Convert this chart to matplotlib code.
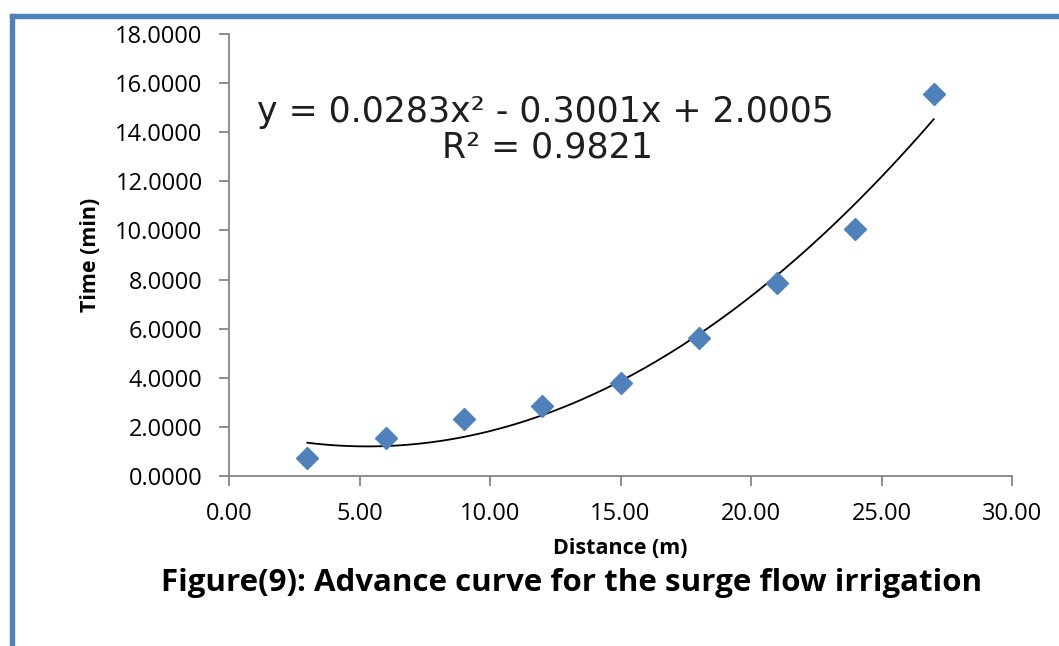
import numpy as np
import matplotlib
matplotlib.use("Agg")
import matplotlib.pyplot as plt
from matplotlib.ticker import FormatStrFormatter, MultipleLocator
from matplotlib.patches import Rectangle

# Data
distance = [3, 6, 9, 12, 15, 18, 21, 24, 27]
time_min = [0.73, 1.55, 2.32, 2.85, 3.79, 5.62, 7.86, 10.06, 15.55]
trend_coef = [0.0283, -0.3001, 2.0005]
r_squared = 0.9821
title = "Figure(9): Advance curve for the surge flow irrigation"
xlabel = "Distance (m)"
ylabel = "Time (min)"

blue = "#4F81BD"
gray = "#868686"

fig = plt.figure(figsize=(10.59, 6.46), dpi=100)
ax = fig.add_axes([229/1059, 1-476/646, (1012-229)/1059, (476-34)/646])

# trend line
xs = np.linspace(min(distance), max(distance), 200)
ax.plot(xs, np.polyval(trend_coef, xs), color="black", lw=1.3, zorder=2)
ax.plot(distance, time_min, linestyle="none", marker="D", markersize=11,
        color=blue, markeredgecolor=blue, zorder=3)

ax.set_xlim(0, 30)
ax.set_ylim(0, 18)
ax.xaxis.set_major_locator(MultipleLocator(5))
ax.yaxis.set_major_locator(MultipleLocator(2))
ax.xaxis.set_major_formatter(FormatStrFormatter("%.2f"))
ax.yaxis.set_major_formatter(FormatStrFormatter("%.4f"))
for s in ["top", "right"]:
    ax.spines[s].set_visible(False)
for s in ["left", "bottom"]:
    ax.spines[s].set_color(gray)
    ax.spines[s].set_linewidth(1.3)
ax.tick_params(axis="both", direction="out", length=7, width=1.3, color=gray,
               labelsize=17)
ax.tick_params(axis="x", pad=12)
ax.tick_params(axis="y", pad=12)
for lab in ax.get_xticklabels() + ax.get_yticklabels():
    lab.set_fontfamily("Open Sans")
ax.set_xlabel(xlabel, fontsize=15.5, fontweight="bold", family="Open Sans", labelpad=8)
ax.set_ylabel(ylabel, fontsize=15.5, fontweight="bold", family="Open Sans", labelpad=10)

eq = "y = {:.4f}x² - {:.4f}x + {:.4f}".format(trend_coef[0], -trend_coef[1], trend_coef[2])
fig.text(545/1059, 1-122/646, eq, ha="center", va="baseline", fontsize=25,
         family="DejaVu Sans", color="#1e1e1e")
fig.text(547/1059, 1-157.5/646, "R² = {:.4f}".format(r_squared), ha="center", va="baseline",
         fontsize=25, family="DejaVu Sans", color="#1e1e1e")

fig.text(572/1059, 1-583/646, title, ha="center", va="center", fontsize=22.5,
         fontweight="bold", family="Open Sans")

# blue frame (left and top)
fig.patches.append(Rectangle((10/1059, 0), 4/1059, 1-14/646, transform=fig.transFigure,
                             color=blue, zorder=0))
fig.patches.append(Rectangle((10/1059, 1-18/646), 1, 4/646, transform=fig.transFigure,
                             color=blue, zorder=0))

fig.savefig("out.png", dpi=100)
